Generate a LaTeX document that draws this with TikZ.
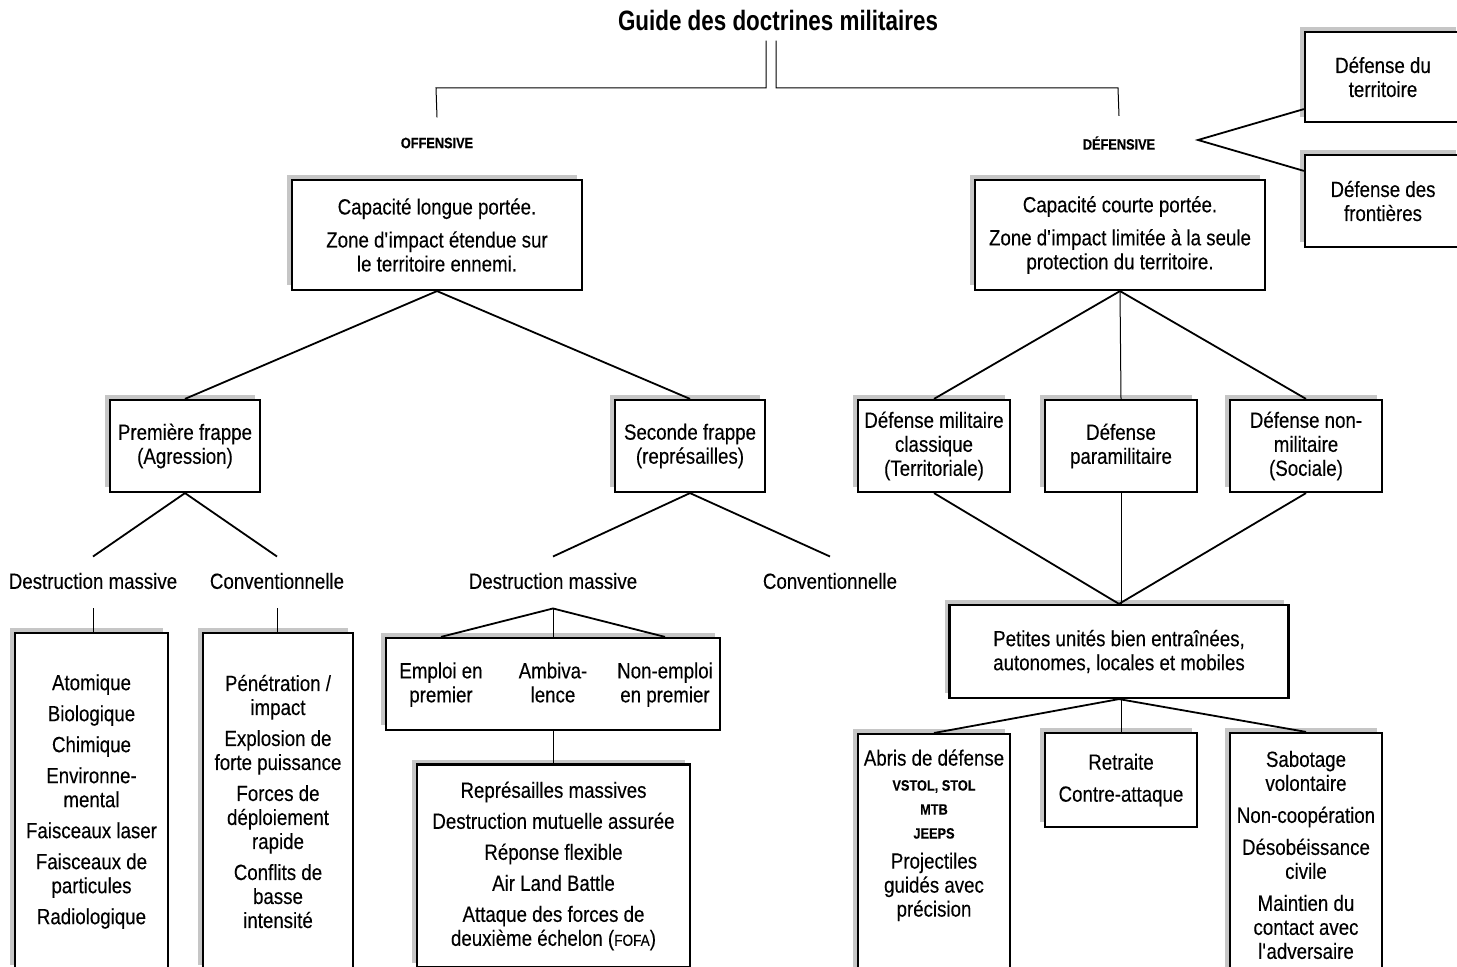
\documentclass[tikz,border=0pt]{standalone}
\usepackage{fontspec}
\setmainfont{Liberation Sans}[FakeStretch=0.85, FakeBold=0.25]
\newfontfamily\titlefont{Liberation Sans}[FakeStretch=0.8]
\usetikzlibrary{positioning, shadows}

\tikzset{
  box/.style={draw, line width=1.1pt, fill=white, align=center, inner sep=0pt,
    font=\fontsize{11}{12}\selectfont,
    general shadow={fill=gray!45, shadow xshift=-2.5pt, shadow yshift=2.5pt}},
  txt/.style={align=center, inner sep=0pt, font=\fontsize{11}{12}\selectfont},
  col/.style={txt, anchor=north},
  tag/.style={inner sep=0pt, font=\fontsize{7.5}{9}\selectfont\bfseries},
  link/.style={line width=0.9pt},
  stem/.style={line width=0.5pt}
}

\begin{document}
\begin{tikzpicture}[x=0.5pt, y=-0.5pt]
  \useasboundingbox (0,0) rectangle (1457,967);
  \clip (0,0) rectangle (1457,967);

  %Define nodes
  \node[inner sep=0pt, font=\titlefont\bfseries\fontsize{14}{16}\selectfont] (guide) at (778,20) {Guide des doctrines militaires};
  \node[tag] (off) at (437,143) {OFFENSIVE};
  \node[tag] (def) at (1119,143) {DÉFENSIVE};

  \node[box, minimum width=145pt, minimum height=55pt] (capL) at (437,235)
    {Capacité longue portée.\\[4.5pt] Zone d\textquotesingle impact étendue sur\\ le territoire ennemi.};
  \node[box, minimum width=145pt, minimum height=55pt] (capR) at (1120,235)
    {Capacité courte portée.\\[4.5pt] Zone d\textquotesingle impact limitée à la seule\\ protection du territoire.};
  \node[box, minimum width=78pt, minimum height=45pt] (terr) at (1383,77) {Défense du\\ territoire};
  \node[box, minimum width=78pt, minimum height=46pt] (front) at (1383,201) {Défense des\\ frontières};

  % Offensive branch
  \node[box, minimum width=75pt, minimum height=46pt] (prem) at (185,446) {Première frappe\\ (Agression)};
  \node[box, minimum width=75pt, minimum height=46pt] (sec) at (690,446) {Seconde frappe\\ (représailles)};
  \node[txt] (dmL) at (93,581) {Destruction massive};
  \node[txt] (convL) at (277,581) {Conventionnelle};
  \node[txt] (dmR) at (553,581) {Destruction massive};
  \node[txt] (convR) at (830,581) {Conventionnelle};

  \node[box, minimum width=76.5pt, minimum height=168.5pt] (atom) at (91.5,801.5)
    {Atomique\\[3.5pt] Biologique\\[3.5pt] Chimique\\[3.5pt] Environne-\\ mental\\[3.5pt]
     Faisceaux laser\\[3.5pt] Faisceaux de\\ particules\\[3.5pt] Radiologique};
  \node[box, minimum width=75pt, minimum height=168.5pt] (pene) at (278,801.5)
    {Pénétration /\\ impact\\[3.5pt] Explosion de\\ forte puissance\\[3.5pt]
     Forces de\\ déploiement\\ rapide\\[3.5pt] Conflits de\\ basse\\ intensité};

  \node[box, minimum width=167pt, minimum height=46pt] (emploi) at (553,684) {};
  \node[col] (emp2) at ([yshift=11pt]emploi.center) {Ambiva-\\ lence};
  \node[col] (emp1) at ([xshift=-56pt]emp2.north) {Emploi en\\ premier};
  \node[col] (emp3) at ([xshift=56pt]emp2.north) {Non-emploi\\ en premier};

  \node[box, minimum width=136.5pt, minimum height=101.5pt] (repr) at (553.5,866)
    {Représailles massives\\[3.5pt] Destruction mutuelle assurée\\[3.5pt] Réponse flexible\\[3.5pt]
     Air Land Battle\\[3.5pt] Attaque des forces de\\ deuxième échelon ({\fontsize{8}{12}\selectfont FOFA})};

  % Defensive branch
  \node[box, minimum width=76pt, minimum height=46pt] (dmil) at (934,446) {Défense militaire\\ classique\\ (Territoriale)};
  \node[box, minimum width=76pt, minimum height=46pt] (dpara) at (1121,446) {Défense\\ paramilitaire};
  \node[box, minimum width=76pt, minimum height=46pt] (dnon) at (1306,446) {Défense non-\\ militaire\\ (Sociale)};

  \node[box, minimum width=169.5pt, minimum height=46.5pt] (pet) at (1119,651.5)
    {Petites unités bien entraînées,\\ autonomes, locales et mobiles};

  \node[box, minimum width=76pt, minimum height=122pt, anchor=north] (abris) at (934,733) {};
  \node[txt, anchor=north] (abristxt) at ([yshift=-8pt]abris.north)
    {Abris de défense\\[0.5pt] {\fontsize{7.5}{12}\selectfont\bfseries VSTOL, STOL}\\
     {\fontsize{7.5}{12}\selectfont\bfseries MTB}\\ {\fontsize{7.5}{12}\selectfont\bfseries JEEPS}\\[3pt]
     Projectiles\\ guidés avec\\ précision};
  \node[box, minimum width=76pt, minimum height=47pt] (retr) at (1121,780) {Retraite\\[4pt] Contre-attaque};
  \node[box, minimum width=76pt, minimum height=122pt] (sabo) at (1306,855)
    {Sabotage\\ volontaire\\[4pt] Non-coopération\\[4pt] Désobéissance\\ civile\\[4pt]
     Maintien du\\ contact avec\\ l\textquotesingle adversaire};

  % Connect the nodes
  \coordinate (obar) at (436,88);
  \coordinate (dbar) at (1118,88);
  \coordinate (apex) at (1198,140);
  \draw[stem] ([xshift=-6pt, yshift=-5pt]guide.south) |- (obar) -- ([yshift=10pt]off.north);
  \draw[stem] ([xshift=-1pt, yshift=-5pt]guide.south) |- (dbar) -- ([yshift=10pt]def.north);
  \draw[link] ([yshift=7pt]terr.south west) -- (apex) -- ([yshift=-8.5pt]front.north west);

  \draw[link] (capL.south) -- (prem.north);
  \draw[link] (capL.south) -- (sec.north);
  \draw[link] (prem.south) -- ([yshift=8pt]dmL.north);
  \draw[link] (prem.south) -- ([yshift=8pt]convL.north);
  \draw[link] (sec.south) -- ([yshift=8pt]dmR.north);
  \draw[link] (sec.south) -- ([yshift=8pt]convR.north);
  \draw[stem] ([yshift=-9.5pt]dmL.south) -- (dmL |- atom.north);
  \draw[stem] ([yshift=-9.5pt]convL.south) -- (convL |- pene.north);
  \draw[link] ([yshift=-9.5pt]dmR.south) -- (emp1 |- emploi.north);
  \draw[stem] ([yshift=-9.5pt]dmR.south) -- (emp2 |- emploi.north);
  \draw[link] ([yshift=-9.5pt]dmR.south) -- (emp3 |- emploi.north);
  \draw[stem] (emploi.south) -- (emploi.south |- repr.north);

  \draw[link] (capR.south) -- (dmil.north);
  \draw[stem] (capR.south) -- (dpara.north);
  \draw[link] (capR.south) -- (dnon.north);
  \draw[link] (dmil.south) -- (pet.north);
  \draw[stem] (dpara.south) -- (dpara |- pet.north);
  \draw[link] (dnon.south) -- (pet.north);
  \draw[link] (pet.south) -- (abris.north);
  \draw[stem] (retr |- pet.south) -- (retr.north);
  \draw[link] (pet.south) -- (sabo.north);
\end{tikzpicture}
\end{document}
